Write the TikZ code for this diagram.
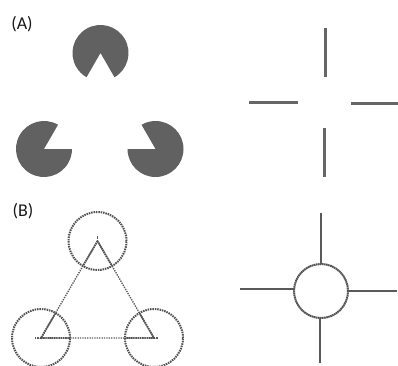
\documentclass[tikz,border=0pt]{standalone}
\usepackage{fontspec}
\setmainfont{Carlito}
\begin{document}
\begin{tikzpicture}[x=1pt,y=1pt,
  solidgray/.style={fill=black!62},
  bar/.style={draw=black!60,line width=3pt},
  thinline/.style={draw=black!65,line width=1.4pt},
  dotline/.style={draw=black!65,line width=1.4pt,dash pattern=on 1.3pt off 1.1pt},
  dotring/.style={draw=black!68,line width=2pt,dash pattern=on 1.5pt off 0.9pt},
  panellabel/.style={font=\fontsize{18}{21}\selectfont,text=black!90,inner sep=0pt}]
\useasboundingbox (0,0) rectangle (398,365);

% ---- (A) inducers: three notched discs ----
\node[panellabel] (la) at (22,341) {(A)};
\coordinate (pt) at (100.5,312);
\coordinate (pl) at (44,216);
\coordinate (pr) at (155.5,216);
\fill[solidgray] (pt) -- ++(300:28) arc[start angle=300,end angle=600,radius=28] -- cycle;
\fill[solidgray] (pl) -- ++(60:28) arc[start angle=60,end angle=360,radius=28] -- cycle;
\fill[solidgray] (pr) -- ++(180:28) arc[start angle=180,end angle=480,radius=28] -- cycle;

% ---- (A) four line ends around an empty centre ----
\coordinate (ca) at (324.5,262.5);
\draw[bar] (325,337) -- (325,288);
\draw[bar] (324,237) -- (324,188);
\draw[bar] (249,263) -- (298,263);
\draw[bar] (351,262) -- (399,262);

% ---- (B) triangle with circles on its corners ----
\node[panellabel] (lb) at (23,154) {(B)};
\coordinate (tt) at (97.5,124);
\coordinate (tl) at (41,27);
\coordinate (tr) at (154,27);
\draw[dotline] (tt) -- (tl) -- (tr) -- cycle;
\draw[dotline] (tt) -- ++(90:5);
\draw[dotline] (tl) -- ++(180:6);
\draw[dotline] (tr) -- ++(0:4);
\begin{scope}
  \clip (tt) circle (28) (tl) circle (28) (tr) circle (28);
  \draw[draw=black!68,line width=1.8pt,dash pattern=on 1.4pt off 0.8pt] (tt) -- (tl) -- (tr) -- cycle;
\end{scope}
\draw[dotring] (tt) circle (29);
\draw[dotring] (tl) circle (29);
\draw[dotring] (tr) circle (29);

% ---- (B) circle with four spokes ----
\coordinate (cb) at (321,74);
\draw[dotring,dash pattern=on 1.6pt off 0.5pt] (cb) circle (27);
\draw[thinline] (321,152) -- (321,101);
\draw[thinline] (320,47) -- (320,2);
\draw[thinline] (240,76) -- (294,76);
\draw[thinline] (348,74) -- (397,74);
\end{tikzpicture}
\end{document}
